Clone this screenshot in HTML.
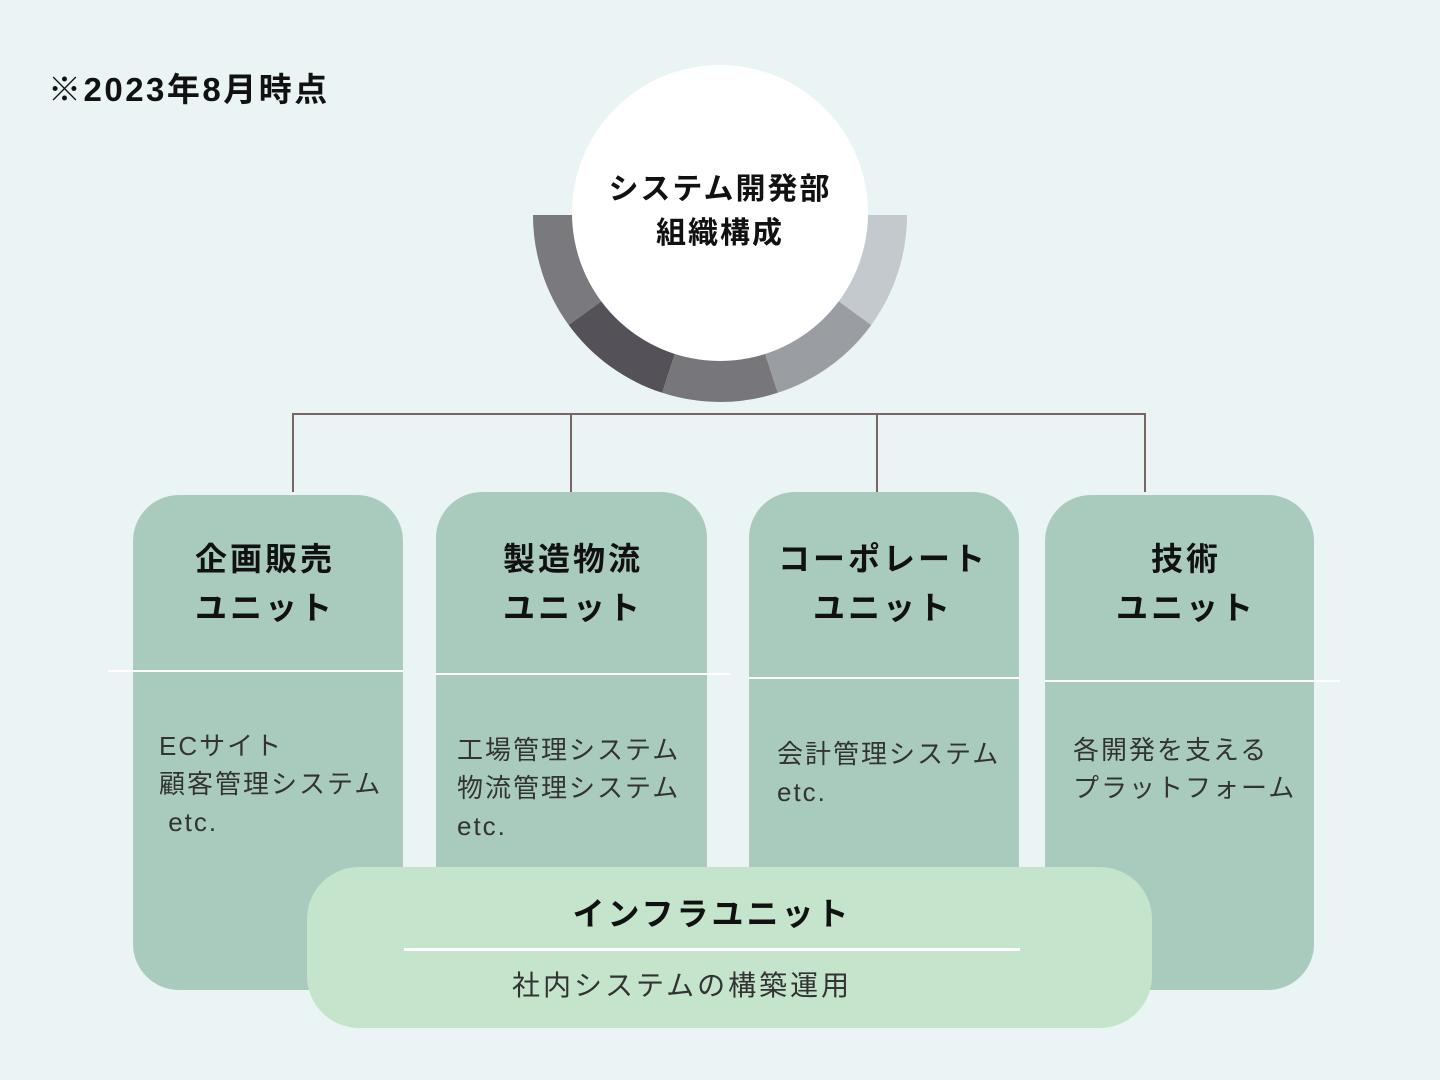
<!DOCTYPE html>
<html><head><meta charset="utf-8"><style>
body{margin:0;width:1440px;height:1080px;background:#ebf4f5;position:relative;overflow:hidden;font-family:"Liberation Sans","Noto Sans CJK JP",sans-serif;}
.a{position:absolute}
.card{position:absolute;background:#a9cbbd;border-radius:46px}
.t{position:absolute;font-weight:bold;font-size:32px;color:#111;text-align:center;line-height:49px;letter-spacing:3px}
.b{position:absolute;font-size:26px;color:#333;line-height:38px;white-space:nowrap;letter-spacing:2px}
.hl{position:absolute;height:2px;background:#fff}
</style></head><body>
<div class="a" style="left:48px;top:63px;font-size:33px;font-weight:bold;color:#111;letter-spacing:2.5px">※2023年8月時点</div>
<svg class="a" style="left:0;top:0" width="1440" height="1080">
<g stroke="none">
<path d="M720,215 L533,215 A187,187 0 0 0 568.7,325 Z" fill="#7a7a7e"/>
<path d="M720,215 L568.7,325 A187,187 0 0 0 662.2,392.8 Z" fill="#545258"/>
<path d="M720,215 L662.2,392.8 A187,187 0 0 0 777.8,392.8 Z" fill="#77777b"/>
<path d="M720,215 L777.8,392.8 A187,187 0 0 0 871.3,325 Z" fill="#9a9ea2"/>
<path d="M720,215 L871.3,325 A187,187 0 0 0 907,215 Z" fill="#c3c9cc"/>
</g>
<circle cx="720" cy="213" r="148" fill="#fff"/>
<g stroke="#7d6464" stroke-width="2" fill="none">
<path d="M293,492 V414 H1145 V492"/>
<path d="M571,414 V492"/><path d="M877,414 V496"/>
</g>
</svg>
<div class="t" style="left:572px;width:296px;top:168px;font-size:30px;line-height:44px;letter-spacing:2px">システム開発部<br>組織構成</div>
<div class="card" style="left:133px;top:495px;width:270px;height:495px"></div>
<div class="card" style="left:436px;top:492px;width:271px;height:440px"></div>
<div class="card" style="left:749px;top:492px;width:270px;height:440px"></div>
<div class="card" style="left:1045px;top:495px;width:269px;height:495px"></div>
<div class="hl" style="left:108px;top:670px;width:295px"></div>
<div class="hl" style="left:436px;top:673px;width:294px"></div>
<div class="hl" style="left:749px;top:677px;width:270px"></div>
<div class="hl" style="left:1045px;top:680px;width:295px"></div>
<div class="t" style="left:133px;width:264px;top:535px">企画販売<br>ユニット</div>
<div class="t" style="left:436px;width:274px;top:535px">製造物流<br>ユニット</div>
<div class="t" style="left:749px;width:268px;top:535px">コーポレート<br>ユニット</div>
<div class="t" style="left:1045px;width:282px;top:535px">技術<br>ユニット</div>
<div class="b" style="left:159px;top:727px">ECサイト<br>顧客管理システム<br>&nbsp;etc.</div>
<div class="b" style="left:457px;top:731px">工場管理システム<br>物流管理システム<br>etc.</div>
<div class="b" style="left:777px;top:735px">会計管理システム<br>etc.</div>
<div class="b" style="left:1073px;top:731px">各開発を支える<br>プラットフォーム</div>
<div class="a" style="left:307px;top:867px;width:845px;height:161px;background:#c4e5cb;border-radius:52px"></div>
<div class="a" style="left:404px;top:948px;width:616px;height:3px;background:#fff"></div>
<div class="t" style="left:307px;width:810px;top:890px">インフラユニット</div>
<div class="b" style="left:512px;top:967px;font-size:28px;letter-spacing:3px">社内システムの構築運用</div>
</body></html>
